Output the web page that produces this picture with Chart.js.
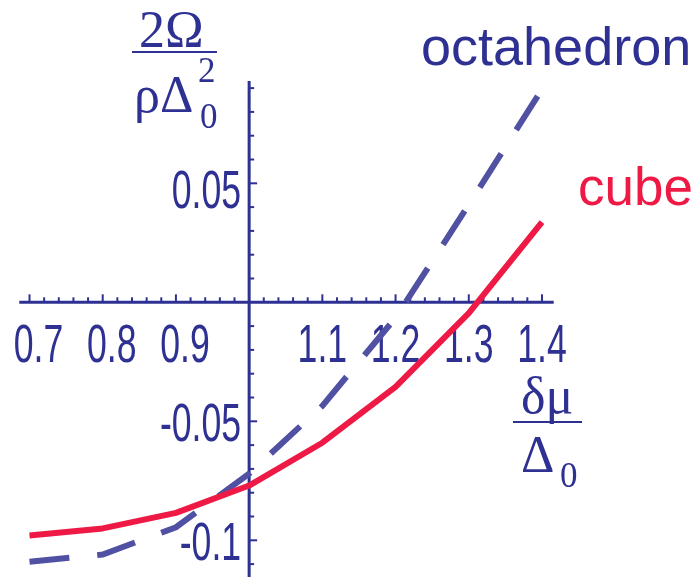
<!DOCTYPE html>
<html>
<head>
<meta charset="utf-8">
<script src="https://cdn.jsdelivr.net/npm/chart.js@4/dist/chart.umd.min.js"></script>
<style>
  html, body { margin: 0; padding: 0; background: #ffffff; }
  canvas { display: block; }
</style>
</head>
<body>
<canvas id="chart" width="698" height="577"></canvas>
<script>
// Detuning δμ/Δ0 and grand-potential difference 2Ω/(ρΔ0²) for two crystal structures
const detuning = [0.7, 0.8, 0.9, 1.0, 1.1, 1.2, 1.3, 1.4];
const cubeOmega = [-0.098, -0.095, -0.0885, -0.077, -0.059, -0.0355, -0.0045, 0.0337];
const octahedronOmega = [-0.109, -0.106, -0.0945, -0.072, -0.0435, -0.0065, 0.041, 0.0895];

// Labelled ticks on the crossing axes
const xTickValues = [0.7, 0.8, 0.9, 1.1, 1.2, 1.3, 1.4];
const xTickLabels = ['0.7', '0.8', '0.9', '1.1', '1.2', '1.3', '1.4'];
const yTickValues = [0.05, -0.05, -0.1];
const yTickLabels = ['0.05', '-0.05', '-0.1'];

const NAVY = '#2e3192';
const DASH_BLUE = '#5151a3';
const RED = '#ee1a45';
const SANS = '"Liberation Sans", Arial, Helvetica, sans-serif';
const SERIF = '"Liberation Serif", "Times New Roman", Times, serif';

// draws horizontally condensed text
function squeezed(ctx, text, x, y, align, sx) {
  ctx.save();
  ctx.translate(x, y);
  ctx.scale(sx, 1);
  ctx.textAlign = align;
  ctx.fillText(text, 0, 0);
  ctx.restore();
}

// Axes that cross at (1.0, 0), with tick marks, labels and fraction titles
const crossAxes = {
  id: 'crossAxes',
  beforeDatasetsDraw(chart) {
    const { ctx, scales: { x, y } } = chart;
    const x0 = x.getPixelForValue(1.0);
    const y0 = y.getPixelForValue(0);
    ctx.save();
    ctx.strokeStyle = NAVY;
    ctx.fillStyle = NAVY;
    ctx.lineCap = 'butt';

    // axis lines
    ctx.lineWidth = 3;
    ctx.beginPath();
    ctx.moveTo(x.getPixelForValue(0.686), y0);
    ctx.lineTo(x.getPixelForValue(1.416), y0);
    ctx.stroke();
    ctx.beginPath();
    ctx.moveTo(x0, y.getPixelForValue(0.093));
    ctx.lineTo(x0, chart.height);
    ctx.stroke();

    // tick marks: x every 0.02 (major every 0.1), y every 0.01 (major every 0.05)
    ctx.lineWidth = 2;
    for (let i = 0; i <= 35; i++) {
      if (i === 15) continue;
      const px = x.getPixelForValue(0.7 + i * 0.02);
      const len = i % 5 === 0 ? 8 : 5;
      ctx.beginPath();
      ctx.moveTo(px, y0);
      ctx.lineTo(px, y0 - len);
      ctx.stroke();
    }
    for (let i = -11; i <= 9; i++) {
      if (i === 0) continue;
      const py = y.getPixelForValue(i * 0.01);
      const len = i % 5 === 0 ? 8 : 5;
      ctx.beginPath();
      ctx.moveTo(x0, py);
      ctx.lineTo(x0 + len, py);
      ctx.stroke();
    }

    // tick labels
    ctx.font = '54px ' + SANS;
    ctx.textBaseline = 'alphabetic';
    xTickValues.forEach((v, i) => {
      const shift = v < 1 ? 9 : 0;
      squeezed(ctx, xTickLabels[i], x.getPixelForValue(v) + shift, y0 + 60, 'center', 0.66);
    });
    yTickValues.forEach((v, i) => {
      const lift = v > 0 ? 25 : 20;
      squeezed(ctx, yTickLabels[i], x0 - 8, y.getPixelForValue(v) + lift, 'right', 0.66);
    });

    // vertical-axis title: 2Ω / ρΔ0²
    ctx.textAlign = 'left';
    ctx.font = '52px ' + SERIF;
    ctx.fillText('2Ω', 139, 47);
    ctx.fillText('ρΔ', 134, 112);
    ctx.font = '35px ' + SERIF;
    ctx.fillText('2', 198, 82);
    ctx.fillText('0', 200, 128);
    ctx.lineWidth = 2;
    ctx.beginPath();
    ctx.moveTo(132, 52);
    ctx.lineTo(217, 52);
    ctx.stroke();

    // horizontal-axis title: δμ / Δ0
    ctx.font = '52px ' + SERIF;
    ctx.fillText('δμ', 521, 413);
    ctx.fillText('Δ', 521, 472);
    ctx.font = '35px ' + SERIF;
    ctx.fillText('0', 560, 487);
    ctx.beginPath();
    ctx.moveTo(513, 422);
    ctx.lineTo(582, 422);
    ctx.stroke();

    // series names
    ctx.font = '54px ' + SANS;
    ctx.fillStyle = NAVY;
    ctx.fillText('octahedron', 421, 65);
    ctx.fillStyle = RED;
    ctx.font = '53px ' + SANS;
    ctx.fillText('cube', 578, 205);
    ctx.restore();
  }
};

new Chart(document.getElementById('chart'), {
  type: 'line',
  data: {
    datasets: [
      {
        label: 'cube',
        data: detuning.map((d, i) => ({ x: d, y: cubeOmega[i] })),
        borderColor: RED,
        borderWidth: 6,
        pointRadius: 0,
        tension: 0,
        fill: false,
        borderJoinStyle: 'round',
        order: 0
      },
      {
        label: 'octahedron',
        data: detuning.map((d, i) => ({ x: d, y: octahedronOmega[i] })),
        borderColor: DASH_BLUE,
        borderWidth: 6,
        borderDash: [40, 28],
        borderCapStyle: 'butt',
        pointRadius: 0,
        tension: 0,
        fill: false,
        order: 1
      }
    ]
  },
  options: {
    responsive: false,
    animation: false,
    layout: { padding: 0 },
    plugins: { legend: { display: false }, tooltip: { enabled: false } },
    scales: {
      x: { type: 'linear', min: 0.6597, max: 1.6131, display: false },
      y: { type: 'linear', min: -0.11542, max: 0.12702, display: false }
    }
  },
  plugins: [crossAxes]
});
</script>
</body>
</html>
